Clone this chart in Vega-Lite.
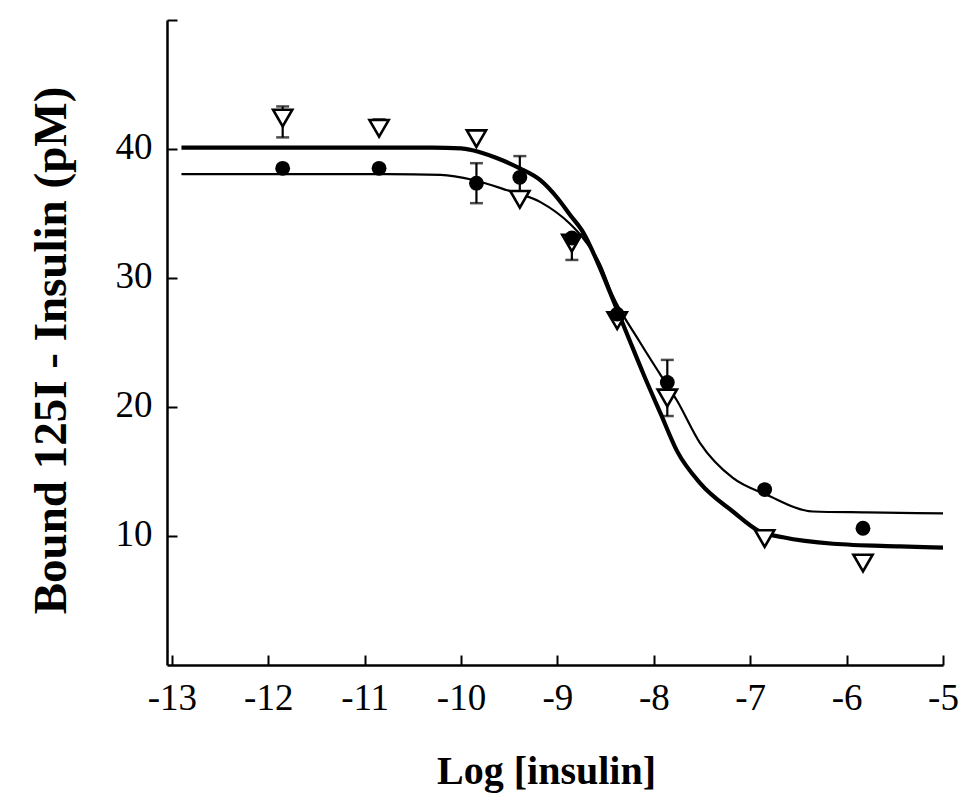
{
  "$schema": "https://vega.github.io/schema/vega-lite/v6.json",
  "autosize": "none",
  "width": 776,
  "height": 645,
  "padding": {"left": 167, "top": 20, "right": 21, "bottom": 131},
  "background": "white",
  "config": {
    "view": {"stroke": null},
    "font": "Liberation Serif",
    "axis": {
      "grid": false,
      "domainColor": "black",
      "domainWidth": 2.5,
      "tickColor": "black",
      "tickWidth": 2,
      "labelFont": "Liberation Serif",
      "labelFontSize": 37,
      "labelColor": "black",
      "titleFont": "Liberation Serif",
      "titleFontWeight": "bold",
      "titleColor": "black"
    }
  },
  "datasets": {
    "curves": [
      {"series": "B", "x": -12.9, "y": 40.1},
      {"series": "B", "x": -10.3, "y": 40.1},
      {"series": "B", "x": -10.0, "y": 40.05},
      {"series": "B", "x": -9.88, "y": 39.9},
      {"series": "B", "x": -9.63, "y": 39.3},
      {"series": "B", "x": -9.39, "y": 38.5},
      {"series": "B", "x": -9.18, "y": 37.6},
      {"series": "B", "x": -9.0, "y": 36.2},
      {"series": "B", "x": -8.87, "y": 34.9},
      {"series": "B", "x": -8.73, "y": 33.5},
      {"series": "B", "x": -8.56, "y": 30.8},
      {"series": "B", "x": -8.45, "y": 28.8},
      {"series": "B", "x": -8.28, "y": 25.7},
      {"series": "B", "x": -8.11, "y": 22.6},
      {"series": "B", "x": -7.93, "y": 19.5},
      {"series": "B", "x": -7.76, "y": 16.6},
      {"series": "B", "x": -7.52, "y": 14.1},
      {"series": "B", "x": -7.18, "y": 11.9},
      {"series": "B", "x": -6.9, "y": 10.35},
      {"series": "B", "x": -6.66, "y": 9.9},
      {"series": "B", "x": -6.14, "y": 9.4},
      {"series": "B", "x": -5.45, "y": 9.2},
      {"series": "B", "x": -5.0, "y": 9.1},
      {"series": "A", "x": -12.9, "y": 38.05},
      {"series": "A", "x": -10.77, "y": 38.05},
      {"series": "A", "x": -10.21, "y": 38.0},
      {"series": "A", "x": -9.87, "y": 37.6},
      {"series": "A", "x": -9.52, "y": 36.8},
      {"series": "A", "x": -9.18, "y": 35.9},
      {"series": "A", "x": -8.87, "y": 34.2},
      {"series": "A", "x": -8.74, "y": 33.15},
      {"series": "A", "x": -8.56, "y": 31.1},
      {"series": "A", "x": -8.43, "y": 28.7},
      {"series": "A", "x": -8.15, "y": 25.1},
      {"series": "A", "x": -7.94, "y": 22.6},
      {"series": "A", "x": -7.76, "y": 20.5},
      {"series": "A", "x": -7.52, "y": 17.2},
      {"series": "A", "x": -7.18, "y": 14.5},
      {"series": "A", "x": -6.83, "y": 13.2},
      {"series": "A", "x": -6.35, "y": 11.9},
      {"series": "A", "x": -5.79, "y": 11.83},
      {"series": "A", "x": -5.0, "y": 11.75}
    ],
    "points": [
      {"series": "A", "x": -11.85, "y": 38.5},
      {"series": "A", "x": -10.85, "y": 38.5},
      {"series": "A", "x": -9.84, "y": 37.35},
      {"series": "A", "x": -9.39, "y": 37.8},
      {"series": "A", "x": -8.85, "y": 33.1},
      {"series": "A", "x": -8.38, "y": 27.2},
      {"series": "A", "x": -7.86, "y": 21.9},
      {"series": "A", "x": -6.85, "y": 13.6},
      {"series": "A", "x": -5.83, "y": 10.6},
      {"series": "B", "x": -11.85, "y": 42.4},
      {"series": "B", "x": -10.85, "y": 41.6},
      {"series": "B", "x": -9.84, "y": 40.8},
      {"series": "B", "x": -9.39, "y": 36.1},
      {"series": "B", "x": -8.85, "y": 32.7},
      {"series": "B", "x": -8.38, "y": 26.7},
      {"series": "B", "x": -7.86, "y": 20.7},
      {"series": "B", "x": -6.85, "y": 9.8},
      {"series": "B", "x": -5.83, "y": 7.9}
    ],
    "errs": [
      {"series": "B", "x": -11.85, "lo": 40.9, "hi": 43.3},
      {"series": "B", "x": -10.85, "lo": 41.6, "hi": 42.3},
      {"series": "A", "x": -9.84, "lo": 35.8, "hi": 38.9},
      {"series": "A", "x": -9.39, "lo": 36.5, "hi": 39.45},
      {"series": "A", "x": -8.85, "lo": 31.4, "hi": 33.1},
      {"series": "A", "x": -7.86, "lo": 21.9, "hi": 23.65},
      {"series": "B", "x": -7.86, "lo": 19.3, "hi": 20.7}
    ],
    "caps": [
      {"x": -11.85, "y": 43.3},
      {"x": -11.85, "y": 40.9},
      {"x": -10.85, "y": 42.3},
      {"x": -9.84, "y": 38.9},
      {"x": -9.84, "y": 35.8},
      {"x": -9.39, "y": 39.45},
      {"x": -9.39, "y": 36.5},
      {"x": -8.85, "y": 31.4},
      {"x": -7.86, "y": 23.65},
      {"x": -7.86, "y": 19.3}
    ]
  },
  "encoding": {
    "x": {
      "field": "x",
      "type": "quantitative",
      "scale": {"domain": [-13.05, -5], "nice": false, "zero": false},
      "axis": {
        "values": [-13, -12, -11, -10, -9, -8, -7, -6, -5],
        "labelExpr": "'' + datum.value",
        "ticks": true,
        "tickSize": -10,
        "labelPadding": 25,
        "labelFlush": false,
        "title": "Log [insulin]",
        "titleFontSize": 40,
        "titleBaseline": "alphabetic",
        "titleAnchor": "start",
        "titleAlign": "center",
        "titleX": 379,
        "titleY": 118
      }
    },
    "y": {
      "field": "y",
      "type": "quantitative",
      "scale": {"domain": [0, 50], "nice": false},
      "axis": {
        "values": [10, 20, 30, 40, 50],
        "labelExpr": "datum.value == 50 ? '' : '' + datum.value",
        "ticks": true,
        "tickSize": -10,
        "labelPadding": 25,
        "labelOffset": -2,
        "labelFlush": false,
        "title": "Bound 125I - Insulin (pM)",
        "titleFontSize": 47,
        "titleAngle": -90,
        "titleBaseline": "alphabetic",
        "titleAlign": "center",
        "titleX": -102,
        "titleY": 330
      }
    }
  },
  "layer": [
    {
      "data": {"name": "curves"},
      "transform": [{"filter": "datum.series == 'B'"}],
      "mark": {"type": "line", "color": "black", "strokeWidth": 4.2, "interpolate": "monotone"}
    },
    {
      "data": {"name": "curves"},
      "transform": [{"filter": "datum.series == 'A'"}],
      "mark": {"type": "line", "color": "black", "strokeWidth": 2.2, "interpolate": "monotone"}
    },
    {
      "data": {"name": "errs"},
      "mark": {"type": "rule", "color": "black", "strokeWidth": 2.2},
      "encoding": {
        "y": {"field": "lo", "type": "quantitative", "title": "Bound 125I - Insulin (pM)"},
        "y2": {"field": "hi"}
      }
    },
    {
      "data": {"name": "caps"},
      "mark": {"type": "tick", "orient": "horizontal", "color": "black", "size": 13, "thickness": 2.5}
    },
    {
      "data": {"name": "points"},
      "transform": [{"filter": "datum.series == 'B'"}],
      "mark": {"type": "point", "shape": "triangle-down", "filled": true, "fill": "white", "stroke": "black", "strokeWidth": 2.6, "size": 370, "opacity": 1}
    },
    {
      "data": {"name": "points"},
      "transform": [{"filter": "datum.series == 'A'"}],
      "mark": {"type": "point", "shape": "circle", "filled": true, "color": "black", "size": 220, "opacity": 1}
    }
  ]
}
